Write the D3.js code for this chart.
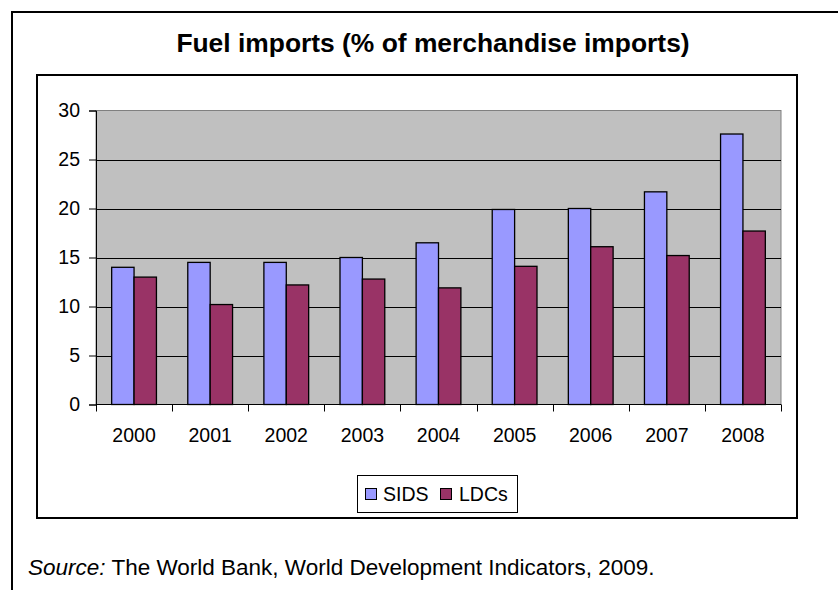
<!DOCTYPE html>
<html>
<head>
<meta charset="utf-8">
<script src="https://cdn.jsdelivr.net/npm/d3@7"></script>
<style>
  html, body { margin: 0; padding: 0; background: #fff; }
  svg { display: block; font-family: "Liberation Sans", Arial, sans-serif; }
</style>
</head>
<body>
<svg id="chart" width="838" height="590"></svg>
<script>
const years = ["2000", "2001", "2002", "2003", "2004", "2005", "2006", "2007", "2008"];
const seriesNames = ["SIDS", "LDCs"];
const sidsValues = [14.0, 14.5, 14.5, 15.0, 16.5, 19.9, 20.0, 21.7, 27.6];
const ldcsValues = [13.0, 10.2, 12.2, 12.8, 11.9, 14.1, 16.1, 15.2, 17.7];
const yTicks = [0, 5, 10, 15, 20, 25, 30];
const colors = ["#9999FF", "#993366"];

const svg = d3.select("#chart");

// Outer frame (extends beyond the picture on the right and bottom)
svg.append("path")
  .attr("d", "M12,590 L12,12 L840,12")
  .attr("fill", "none").attr("stroke", "#000").attr("stroke-width", 2);

// Inner chart box
svg.append("rect")
  .attr("x", 37).attr("y", 75).attr("width", 760).attr("height", 443)
  .attr("fill", "#fff").attr("stroke", "#000").attr("stroke-width", 2);

// Title
svg.append("text")
  .attr("x", 433).attr("y", 52)
  .attr("text-anchor", "middle")
  .attr("font-size", 26.4).attr("font-weight", "bold")
  .text("Fuel imports (% of merchandise imports)");

// Plot area
const plot = { left: 96, top: 110.5, right: 781, bottom: 404.5 };
const x = d3.scaleBand().domain(years).range([plot.left, plot.right]).paddingInner(0).paddingOuter(0);
const x1 = d3.scaleBand().domain(seriesNames).range([0, x.bandwidth()]).paddingInner(0).paddingOuter(0.7);
const y = d3.scaleLinear().domain([0, 30]).range([plot.bottom, plot.top]);

svg.append("rect")
  .attr("x", plot.left).attr("y", plot.top)
  .attr("width", plot.right - plot.left).attr("height", plot.bottom - plot.top)
  .attr("fill", "#C0C0C0").attr("stroke", "#808080").attr("stroke-width", 1);

// Gridlines
svg.append("g").selectAll("line")
  .data(yTicks.filter(d => d > 0 && d < 30))
  .join("line")
  .attr("x1", plot.left).attr("x2", plot.right)
  .attr("y1", d => Math.round(y(d)) + 0.5).attr("y2", d => Math.round(y(d)) + 0.5)
  .attr("stroke", "#000").attr("stroke-width", 1);

// Bars
const data = years.map((yr, i) => ({ year: yr, values: [sidsValues[i], ldcsValues[i]] }));
const groups = svg.append("g").selectAll("g")
  .data(data).join("g")
  .attr("transform", d => `translate(${x(d.year)},0)`);
groups.selectAll("rect")
  .data(d => d.values.map((v, j) => ({ name: seriesNames[j], value: v, color: colors[j] })))
  .join("rect")
  .attr("x", d => x1(d.name))
  .attr("y", d => y(d.value))
  .attr("width", x1.bandwidth())
  .attr("height", d => y(0) - y(d.value))
  .attr("fill", d => d.color)
  .attr("stroke", "#000").attr("stroke-width", 1.3);

// Y axis
const yAxis = d3.axisLeft(y).tickValues(yTicks).tickSize(7).tickPadding(9);
const gy = svg.append("g").attr("transform", `translate(${plot.left},0)`).call(yAxis);
gy.select(".domain").attr("stroke", "#000");
gy.selectAll(".tick line").attr("stroke", "#000");
gy.selectAll(".tick text").attr("font-size", 19.5).attr("fill", "#000")
  .attr("font-family", "'Liberation Sans', Arial, sans-serif");

// X axis: ticks at category boundaries
const gx = svg.append("g").attr("transform", `translate(0,${plot.bottom})`);
gx.append("line").attr("x1", plot.left).attr("x2", plot.right).attr("y1", 0).attr("y2", 0)
  .attr("stroke", "#000").attr("stroke-width", 1);
const boundaries = years.map(d => x(d)).concat([x(years[years.length - 1]) + x.bandwidth()]);
gx.selectAll("line.tk").data(boundaries).join("line").attr("class", "tk")
  .attr("x1", d => Math.round(d) + 0.5).attr("x2", d => Math.round(d) + 0.5)
  .attr("y1", 0).attr("y2", 7).attr("stroke", "#000");
gx.selectAll("text").data(years).join("text")
  .attr("x", d => x(d) + x.bandwidth() / 2)
  .attr("y", 37)
  .attr("text-anchor", "middle")
  .attr("font-size", 19.5)
  .text(d => d);

// Legend
const lg = svg.append("g");
lg.append("rect").attr("x", 357.5).attr("y", 475.5).attr("width", 160).attr("height", 37)
  .attr("fill", "#fff").attr("stroke", "#000").attr("stroke-width", 1);
const legendItems = [
  { name: seriesNames[0], color: colors[0], sx: 365, tx: 383 },
  { name: seriesNames[1], color: colors[1], sx: 440, tx: 459 }
];
legendItems.forEach(it => {
  lg.append("rect").attr("x", it.sx + 0.5).attr("y", 488.5).attr("width", 11).attr("height", 11)
    .attr("fill", it.color).attr("stroke", "#000").attr("stroke-width", 1);
  lg.append("text").attr("x", it.tx).attr("y", 501).attr("font-size", 19.5).text(it.name);
});

// Source note
const src = svg.append("text").attr("x", 28).attr("y", 575).attr("font-size", 22.5);
src.append("tspan").attr("font-style", "italic").text("Source:");
src.append("tspan").text(" The World Bank, World Development Indicators, 2009.");
</script>
</body>
</html>
